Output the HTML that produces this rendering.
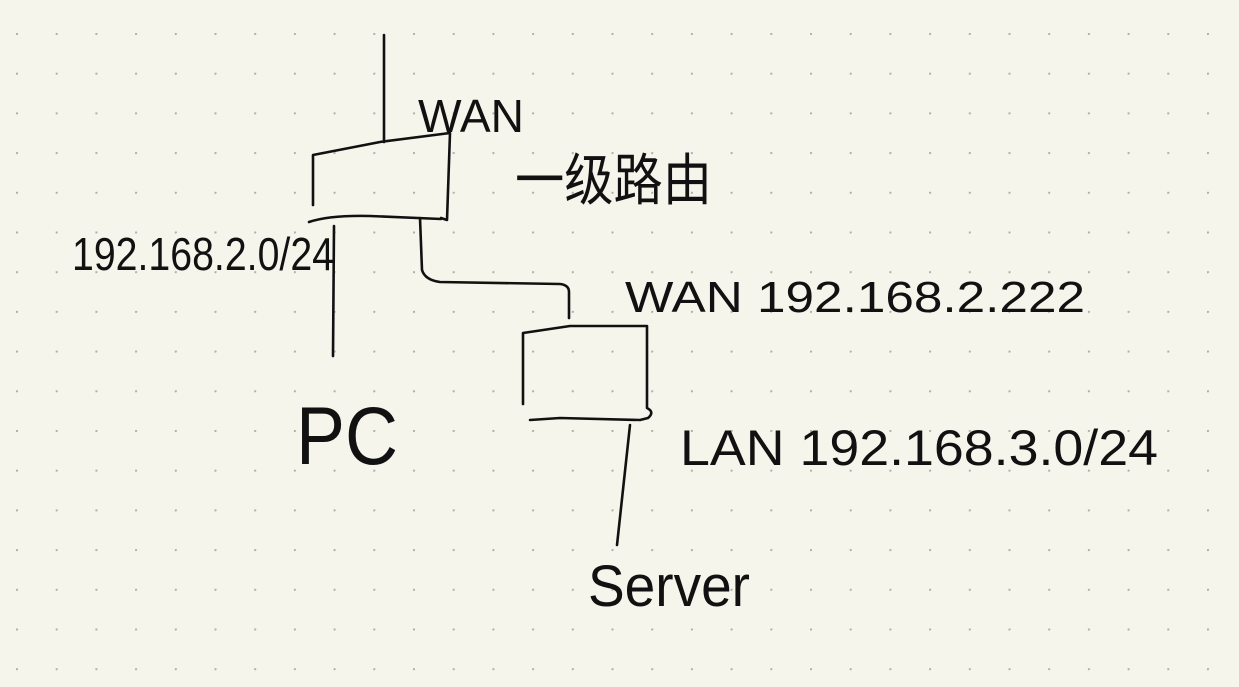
<!DOCTYPE html>
<html><head><meta charset="utf-8"><style>
html,body{margin:0;padding:0;background:#f5f5ec;}
svg{display:block}
text{font-family:"Liberation Sans","Noto Sans CJK SC",sans-serif;fill:#111;}
</style></head><body>
<svg width="1239" height="687" viewBox="0 0 1239 687" xmlns="http://www.w3.org/2000/svg">
<defs><pattern id="d" x="17" y="34" width="39.7" height="39.7" patternUnits="userSpaceOnUse"><circle cx="0.8" cy="0.8" r="1.3" fill="#b0b0a8"/></pattern></defs>
<rect width="1239" height="687" fill="#f5f5ec"/>
<rect x="-1" y="-1" width="1241" height="689" fill="url(#d)" transform="translate(-1,-1)"/>
<g fill="none" stroke="#111" stroke-width="2.6" stroke-linecap="round" stroke-linejoin="round">
<path d="M384 35 L384 142"/>
<path d="M313 205 L313 155 L380 142 L450 133 L447 220 L441 218"/>
<path d="M309 222 Q330 215 370 216 L441 219"/>
<path d="M334 226 L333 356"/>
<path d="M420 218 L422 270 Q425 280 440 282 L560 284 Q569 285 569 292 L569 318"/>
<path d="M523 404 L523 333 L570 326 L647 326 L647 408 Q655 412 648 418 L640 420 L560 418 L530 420"/>
<path d="M630 425 L617 545"/>
</g>
<text x="418" y="132" font-size="46" textLength="106" lengthAdjust="spacingAndGlyphs">WAN</text>
<text x="515" y="200" font-size="56" textLength="197" lengthAdjust="spacingAndGlyphs">一级路由</text>
<text x="72" y="270" font-size="46" textLength="262" lengthAdjust="spacingAndGlyphs">192.168.2.0/24</text>
<text x="296" y="464" font-size="82" textLength="102" lengthAdjust="spacingAndGlyphs">PC</text>
<text x="625" y="312" font-size="44" textLength="460" lengthAdjust="spacingAndGlyphs">WAN  192.168.2.222</text>
<text x="680" y="465" font-size="50" textLength="478" lengthAdjust="spacingAndGlyphs">LAN  192.168.3.0/24</text>
<text x="588" y="606" font-size="58" textLength="162" lengthAdjust="spacingAndGlyphs">Server</text>
</svg>
</body></html>
